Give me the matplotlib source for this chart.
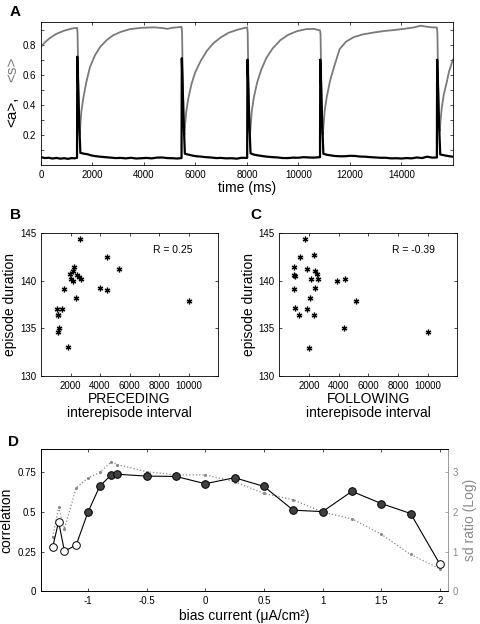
import matplotlib
matplotlib.use('Agg')
import matplotlib.pyplot as plt

# fonts: Helvetica-like first, DejaVu as fallback for odd glyphs
plt.rcParams['font.family'] = ['Liberation Sans', 'DejaVu Sans']
plt.rcParams['xtick.direction'] = 'in'
plt.rcParams['ytick.direction'] = 'in'
plt.rcParams['xtick.major.size'] = 2.5
plt.rcParams['ytick.major.size'] = 2.5
plt.rcParams['xtick.minor.size'] = 2.5
plt.rcParams['ytick.minor.size'] = 2.5
plt.rcParams['xtick.major.width'] = 0.5
plt.rcParams['ytick.major.width'] = 0.5
plt.rcParams['axes.linewidth'] = 0.6
plt.rcParams['xtick.labelsize'] = 7
plt.rcParams['ytick.labelsize'] = 7

# ---- panel A: population activity <a> (black) and synaptic recovery <s> (gray)
t_a = [0, 150, 300, 450, 600, 750, 900, 1050, 1200, 1300, 1400, 1410, 1440, 1480, 1530,
       1600, 1700, 1800, 1900, 2000, 2150, 2300, 2500, 2700, 2900, 3100, 3300, 3500, 3700,
       3900, 4100, 4300, 4500, 4700, 4900, 5100, 5300, 5460,
       5470, 5500, 5540, 5590, 5700, 5800, 5900, 6050, 6200, 6400, 6600, 6800, 7000, 7200,
       7400, 7600, 7800, 8010,
       8020, 8050, 8090, 8140, 8250, 8350, 8500, 8650, 8800, 9000, 9200, 9400, 9600, 9800,
       10000, 10200, 10400, 10600, 10840,
       10850, 10880, 10920, 10970, 11100, 11250, 11400, 11600, 11800, 12000, 12200, 12400,
       12600, 12800, 13000, 13200, 13400, 13600, 13800, 14000, 14200, 14400, 14600, 14800,
       15000, 15200, 15380,
       15390, 15420, 15460, 15510, 15650, 15800, 16000]
a_vals = [0.052, 0.046, 0.048, 0.043, 0.047, 0.042, 0.045, 0.041, 0.046, 0.044, 0.048,
          0.72, 0.55, 0.30, 0.080,
          0.078, 0.074, 0.072, 0.066, 0.062, 0.058, 0.055, 0.052, 0.049, 0.046, 0.047, 0.044,
          0.048, 0.043, 0.045, 0.047, 0.044, 0.049, 0.050, 0.046, 0.045, 0.043, 0.046,
          0.71, 0.55, 0.30, 0.075, 0.070, 0.066, 0.062, 0.058, 0.056, 0.052, 0.050, 0.046,
          0.047, 0.044, 0.045, 0.042, 0.048, 0.047,
          0.70, 0.54, 0.30, 0.078, 0.070, 0.066, 0.062, 0.058, 0.055, 0.052, 0.050, 0.046,
          0.046, 0.049, 0.048, 0.052, 0.050, 0.049, 0.052,
          0.70, 0.54, 0.30, 0.075, 0.068, 0.064, 0.060, 0.058, 0.058, 0.061, 0.060, 0.056,
          0.055, 0.052, 0.050, 0.048, 0.048, 0.044, 0.045, 0.043, 0.046, 0.044, 0.050, 0.046,
          0.055, 0.049, 0.050,
          0.70, 0.54, 0.30, 0.070, 0.065, 0.060, 0.055]

t_s = [0, 150, 350, 600, 900, 1200, 1400, 1420, 1450, 1490, 1505,
       1530, 1570, 1650, 1760, 1900, 2100, 2300, 2550, 2800, 3100, 3450, 3900, 4400, 4750,
       4900, 5100, 5460,
       5480, 5510, 5550, 5570, 5600, 5640, 5720, 5850, 6000, 6200, 6450, 6700, 7000, 7300,
       7650, 8010,
       8030, 8060, 8100, 8120, 8150, 8190, 8270, 8400, 8550, 8750, 9000, 9300, 9600, 9950,
       10300, 10600, 10840,
       10860, 10890, 10930, 10950, 10980, 11020, 11100, 11230, 11400, 11600, 11850, 12150,
       12500, 12900, 13300, 13700, 14100, 14500, 14750, 14950, 15200, 15380,
       15400, 15430, 15470, 15490, 15520, 15570, 15650, 15750, 15850, 16000]
s_vals = [0.785, 0.815, 0.845, 0.872, 0.893, 0.907, 0.912, 0.88, 0.55, 0.22, 0.20,
          0.27, 0.36, 0.45, 0.55, 0.65, 0.73, 0.785, 0.83, 0.862, 0.885, 0.903, 0.912, 0.915, 0.910,
          0.905, 0.912, 0.918,
          0.88, 0.55, 0.22, 0.20, 0.27, 0.35, 0.44, 0.54, 0.62, 0.69, 0.76, 0.81, 0.85, 0.88,
          0.90, 0.915,
          0.88, 0.55, 0.22, 0.20, 0.27, 0.36, 0.45, 0.55, 0.63, 0.71, 0.775, 0.83, 0.865, 0.89,
          0.903, 0.905, 0.895,
          0.87, 0.55, 0.22, 0.20, 0.27, 0.36, 0.45, 0.56, 0.66, 0.77, 0.82, 0.85,
          0.868, 0.88, 0.89, 0.897, 0.905, 0.915, 0.926, 0.92, 0.915, 0.914,
          0.88, 0.55, 0.24, 0.225, 0.29, 0.38, 0.47, 0.54, 0.62, 0.70]

# ---- panels B and C: episode duration vs preceding / following interval
prec_interval = [2622, 2267, 2200, 1978, 2422, 2556, 2733, 2044, 2156, 4489, 5267, 1556,
                 3978, 4444, 2400, 1111, 1444, 1156, 1130, 1200, 1156, 1844, 10044]
prec_duration = [144.44, 141.49, 141.03, 140.72, 140.61, 140.37, 140.19, 140.15, 140.01,
                 142.54, 141.21, 139.10, 139.21, 139.00, 138.15, 137.06, 136.99, 136.36,
                 136.40, 134.99, 134.61, 132.99, 137.87]
foll_interval = [1732, 2335, 1419, 1017, 1866, 2425, 2514, 1017, 1040, 2134, 2626, 3899,
                 4413, 972, 2380, 2067, 5196, 1061, 1888, 1307, 2313, 4346, 2022, 10022]
foll_duration = [144.44, 142.72, 142.54, 141.42, 141.21, 141.00, 140.72, 140.58, 140.52,
                 140.22, 140.22, 140.01, 140.22, 139.10, 139.21, 138.15, 137.91, 137.10,
                 136.99, 136.36, 136.36, 134.99, 132.96, 134.57]

# ---- panel D: correlation and sd ratio vs bias current
bias = [-1.3, -1.25, -1.2, -1.1, -1.0, -0.9, -0.8, -0.75, -0.5, -0.25, 0, 0.25, 0.5,
        0.75, 1.0, 1.25, 1.5, 1.75, 2.0]
correlation = [0.28, 0.439, 0.253, 0.292, 0.499, 0.662, 0.737, 0.739, 0.727, 0.725, 0.679,
               0.717, 0.662, 0.512, 0.503, 0.631, 0.554, 0.491, 0.171]
significant = [False, False, False, False, True, True, True, True, True, True, True,
               True, True, True, True, True, True, True, False]
sd_ratio = [1.37, 2.12, 1.58, 2.61, 2.86, 3.0, 3.27, 3.2, 3.02, 2.94, 2.94, 2.77, 2.47,
            2.31, 2.0, 1.83, 1.44, 0.93, 0.57]

gray = '#7a7a7a'
fig = plt.figure(figsize=(4.8, 6.24), dpi=100)

# Panel A
axA = fig.add_axes([0.0854, 0.7356, 0.858, 0.229])
axA.plot(t_s, s_vals, color=gray, lw=1.3)
axA.plot(t_a, a_vals, color='black', lw=1.6)
axA.set_xlim(0, 16000)
axA.set_ylim(0, 0.95)
axA.set_xticks(range(0, 16000, 2000))
axA.set_yticks([0.2, 0.4, 0.6, 0.8])
axA.set_yticks([0.1, 0.3, 0.5, 0.7, 0.9], minor=True)
axA.tick_params(which='both', top=True, right=True, width=0.5)
axA.set_xlabel('time (ms)', fontsize=10, labelpad=1)
fig.text(0.025, 1 - 112 / 624, '<a>,', rotation=90, ha='center', va='center',
         fontsize=11, color='black')
fig.text(0.025, 1 - 69 / 624, '<s>', rotation=90, ha='center', va='center',
         fontsize=11, color=gray)

# Panels B and C
for rect, xs, ys, lab, rtxt, xlab in [
        ([0.0854, 0.3979, 0.369, 0.2282], prec_interval, prec_duration, 'B', 'R = 0.25',
         'PRECEDING\ninterepisode interval'),
        ([0.582, 0.3979, 0.371, 0.2282], foll_interval, foll_duration, 'C', 'R = -0.39',
         'FOLLOWING\ninterepisode interval')]:
    ax = fig.add_axes(rect)
    ax.plot(xs, ys, linestyle='none', marker='o', ms=4.5, color='#cfcfcf', mec='none')
    ax.plot(xs, ys, linestyle='none', marker=(6, 2, 0), ms=4, color='black', mew=0.8)
    ax.set_xlim(0, 12000)
    ax.set_ylim(130, 145)
    ax.set_xticks([2000, 4000, 6000, 8000, 10000])
    ax.set_yticks([130, 135, 140, 145])
    ax.tick_params(top=True, right=True)
    ax.set_ylabel('episode duration', fontsize=10, labelpad=2)
    ax.set_xlabel(xlab, fontsize=10, labelpad=1, linespacing=1.0)
    ax.text(0.63, 0.88, rtxt, transform=ax.transAxes, fontsize=7.5, va='center')

# Panel D
axD = fig.add_axes([0.0854, 0.0524, 0.847, 0.2285])
axR = axD.twinx()
axR.plot(bias, sd_ratio, linestyle=':', color='#8a8a8a', lw=0.9, marker='.', ms=2.5)
axR.set_ylim(0, 3.6)
axR.set_yticks([0, 1, 2, 3])
axR.tick_params(colors='#8a8a8a', labelsize=7)
axR.spines['right'].set_color('#8a8a8a')
axR.set_ylabel('sd ratio (Log)', fontsize=10, color='#8a8a8a', labelpad=4)

axD.set_zorder(axR.get_zorder() + 1)
axD.patch.set_visible(False)
axD.plot(bias, correlation, color='black', lw=0.8, zorder=2)
for x, y, sig in zip(bias, correlation, significant):
    axD.plot(x, y, marker='o', ms=5.5, mec='black', mew=0.7,
             mfc='#404040' if sig else 'white', zorder=3)
axD.set_xlim(-1.4, 2.065)
axD.set_ylim(0, 0.9)
axD.set_xticks([-1, -0.5, 0, 0.5, 1, 1.5, 2])
axD.set_xticklabels(['-1', '-0.5', '0', '0.5', '1', '1.5', '2'])
axD.set_yticks([0, 0.25, 0.5, 0.75])
axD.set_yticklabels(['0', '0.25', '0.5', '0.75'])
axD.tick_params(top=True)
axD.spines['right'].set_visible(False)
axD.set_ylabel('correlation', fontsize=10, labelpad=3)
axD.set_xlabel('bias current (\u03bcA/cm\u00b2)', fontsize=10, labelpad=2)

# panel letters
for x, y, s in [(10, 12, 'A'), (10, 215, 'B'), (250, 215, 'C'), (8, 442, 'D')]:
    fig.text(x / 480, 1 - y / 624, s, fontsize=11, fontweight='bold', va='center')

plt.savefig('out.png', dpi=100)
